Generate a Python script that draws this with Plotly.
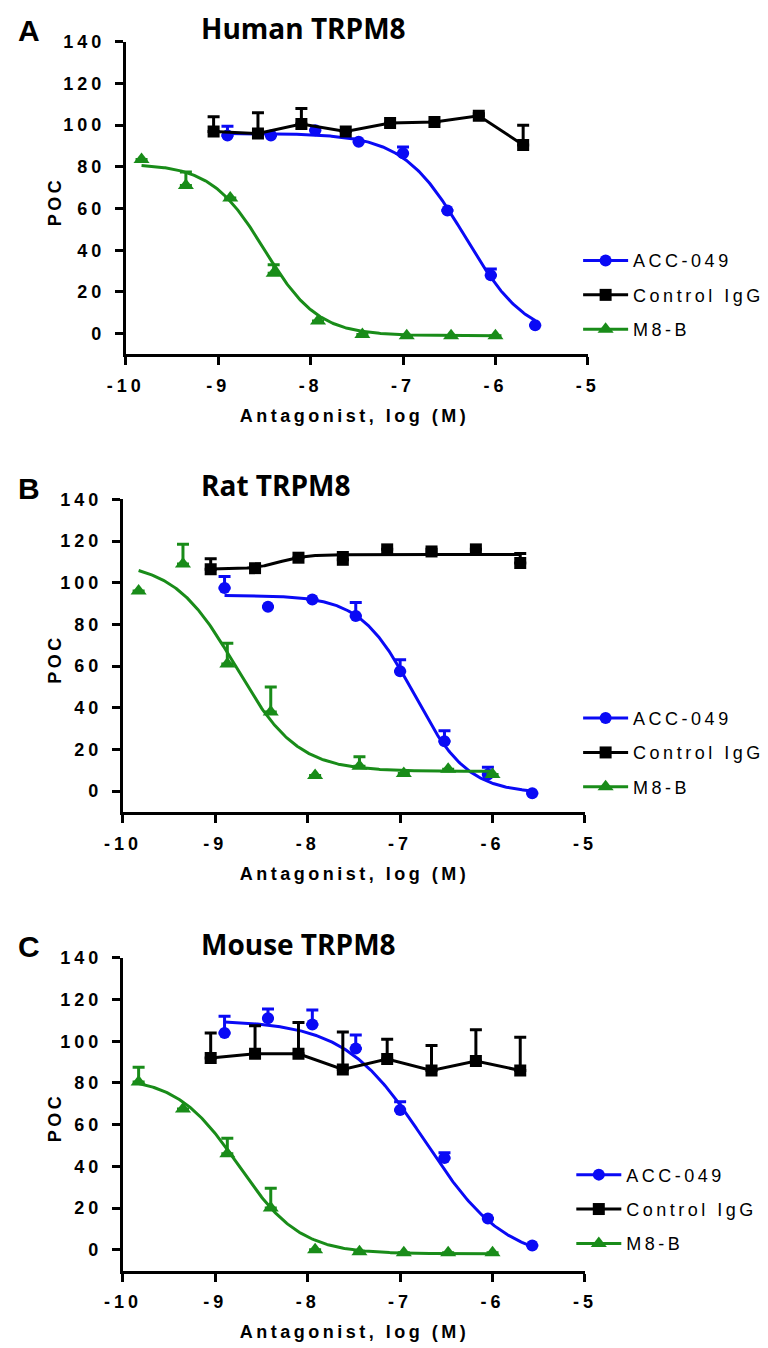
import numpy as np
import plotly.graph_objects as go

# ---------------- data ----------------
panel_letters = ["A", "B", "C"]
panel_titles = ["Human TRPM8", "Rat TRPM8", "Mouse TRPM8"]
series_names = ["ACC-049", "Control IgG", "M8-B"]
x_title = "Antagonist, log (M)"
y_title = "POC"

x_ticks = [-10, -9, -8, -7, -6, -5]
y_ticks = [0, 20, 40, 60, 80, 100, 120, 140]

# log10 concentrations
acc_x = [-8.90, -8.43, -7.95, -7.48, -7.00, -6.52, -6.05, -5.57]
igg_x = [-9.05, -8.57, -8.10, -7.62, -7.14, -6.66, -6.18, -5.70]
m8b_x = [-9.83, -9.35, -8.87, -8.40, -7.92, -7.44, -6.96, -6.48, -6.00]

# Panel A (Human)
acc_y_A = [95, 95, 97.5, 92, 86.5, 59, 28, 4]
acc_err_A = [4.5, 0, 0, 0, 3, 0, 3, 0]
igg_y_A = [97, 96, 100.5, 97, 101, 101.5, 104.5, 90.5]
igg_err_A = [7, 10, 7.5, 0, 0, 0, 1, 9.5]
m8b_y_A = [83.5, 71, 65, 29, 6, -0.5, -1, -1, -1]
m8b_err_A = [0, 6.5, 0, 4, 0, 0, 0, 0, 0]

# Panel B (Rat)
acc_y_B = [97.5, 88.5, 92, 84, 57.5, 24, 8, -1]
acc_err_B = [5.5, 0, 0, 6.5, 5.5, 5, 3.5, 0]
igg_y_B = [106.5, 107, 112, 111, 116, 115, 116, 109.5]
igg_err_B = [5, 1, 0, 3.5, 0, 1, 0, 4.5]
m8b_y_B = [96, 109, 61, 38, 7.5, 12, 8.5, 10.5, 8]
m8b_err_B = [0, 9.5, 10, 12, 0, 4.5, 0, 0, 0]

# Panel C (Mouse)
acc_y_C = [104, 111, 108, 96.5, 67, 44, 15, 2]
acc_err_C = [8, 4.5, 7, 6.5, 4, 2.5, 0, 0]
igg_y_C = [92, 94, 94, 86.5, 91.5, 86, 90.5, 86]
igg_err_C = [12, 13.5, 15, 18, 9.5, 12, 15, 16]
m8b_y_C = [80.5, 67.5, 46, 20, 0, -1, -1.5, -1.5, -1.5]
m8b_err_C = [7, 0, 7.5, 9.5, 0, 0, 0, 0, 0]

# fitted 4-parameter logistic curves: [left plateau, right plateau, logEC50, Hill]
acc_fit_A = [96, -3, -6.33, 1.3]
m8b_fit_A = [81.5, -1, -8.5, 1.5]
acc_fit_B = [94, -1, -6.85, 1.5]
igg_fit_B = [106.5, 113.5, -8.3, 3.0]
m8b_fit_B = [110, 9.5, -8.78, 1.3]
acc_fit_C = [110, -6, -6.73, 1.0]
m8b_fit_C = [83, -2, -8.75, 1.3]

# ---------------- styling ----------------
BLUE = "#0A0AF5"
BLACK = "#000000"
GREEN = "#198C19"
TICK_FONT = dict(family="Liberation Sans", size=18, color="black", weight="bold")
W, H = 768, 1348

# pixel geometry of the three plot areas (left, right, top, bottom)
boxes = [(116, 591, 32, 347), (113, 588, 493, 808), (113, 588, 955, 1270)]
legend_pos = [(581, 234), (581, 695), (574, 1155)]
marker_sizes = [12, 12, 14]
symbols = ["circle", "square", "triangle-up"]
colors = [BLUE, BLACK, GREEN]


def logistic(xs, p):
    a, d, c, h = p
    xs = np.asarray(xs)
    return d + (a - d) / (1 + 10 ** ((xs - c) * h))


def curve_x(xs):
    return np.linspace(min(xs), max(xs), 300)


panels = [
    dict(acc=(acc_y_A, acc_err_A), igg=(igg_y_A, igg_err_A), m8b=(m8b_y_A, m8b_err_A),
         acc_fit=acc_fit_A, igg_fit=None, m8b_fit=m8b_fit_A),
    dict(acc=(acc_y_B, acc_err_B), igg=(igg_y_B, igg_err_B), m8b=(m8b_y_B, m8b_err_B),
         acc_fit=acc_fit_B, igg_fit=igg_fit_B, m8b_fit=m8b_fit_B),
    dict(acc=(acc_y_C, acc_err_C), igg=(igg_y_C, igg_err_C), m8b=(m8b_y_C, m8b_err_C),
         acc_fit=acc_fit_C, igg_fit=None, m8b_fit=m8b_fit_C),
]

fig = go.Figure()
annotations = []
layout_axes = {}

for i, pdat in enumerate(panels):
    k = "" if i == 0 else str(i + 1)
    xa, ya = "x" + k, "y" + k
    leg = "legend" + k
    l, r, t, b = boxes[i]

    def err(vals, color):
        return dict(type="data", symmetric=False, array=vals, arrayminus=[0] * len(vals),
                    color=color, thickness=3, width=6)

    def add_series(xs, ys, errs, fit, j, name, connect=False):
        color = colors[j]
        if fit is not None:
            cx = curve_x(xs)
            fig.add_trace(go.Scatter(x=cx, y=logistic(cx, fit), mode="lines",
                                     line=dict(color=color, width=3), xaxis=xa, yaxis=ya,
                                     showlegend=False, hoverinfo="skip"))
        fig.add_trace(go.Scatter(x=xs, y=ys, mode="lines+markers" if connect else "markers",
                                 line=dict(color=color, width=3),
                                 marker=dict(symbol=symbols[j], size=marker_sizes[j],
                                             color=color),
                                 error_y=err(errs, color), xaxis=xa, yaxis=ya,
                                 showlegend=False, name=name))

    add_series(acc_x, *pdat["acc"], pdat["acc_fit"], 0, series_names[0])
    add_series(igg_x, *pdat["igg"], pdat["igg_fit"], 1, series_names[1],
               connect=pdat["igg_fit"] is None)
    add_series(m8b_x, *pdat["m8b"], pdat["m8b_fit"], 2, series_names[2])

    # legend entries
    for j, name in enumerate(series_names):
        fig.add_trace(go.Scatter(x=[None], y=[None], mode="lines+markers", name=name,
                                 line=dict(color=colors[j], width=3),
                                 marker=dict(symbol=symbols[j], size=marker_sizes[j],
                                             color=colors[j]),
                                 xaxis=xa, yaxis=ya, legend=leg, legendgroup=name + k,
                                 showlegend=True))

    common = dict(showline=True, linewidth=3, linecolor="black", ticks="outside",
                  ticklen=8, tickwidth=3, tickcolor="black", showgrid=False, zeroline=False,
                  tickfont=TICK_FONT, fixedrange=True)
    layout_axes["xaxis" + k] = dict(domain=[l / W, r / W], anchor=ya, range=[-10, -5],
                                    tickmode="array", tickvals=x_ticks,
                                    ticktext=[str(v) for v in x_ticks],
                                    ticklabelstandoff=5, **common)
    layout_axes["yaxis" + k] = dict(domain=[1 - b / H, 1 - t / H], anchor=xa, range=[-10, 140],
                                    tickmode="array", tickvals=y_ticks,
                                    ticktext=[str(v) for v in y_ticks],
                                    ticklabelstandoff=6, **common)
    lx, ly = legend_pos[i]
    layout_axes[leg] = dict(x=lx / W, y=1 - ly / H, xanchor="left", yanchor="top",
                            font=dict(family="Liberation Sans", size=18, color="black"),
                            itemwidth=45, tracegroupgap=8, bgcolor="rgba(0,0,0,0)",
                            borderwidth=0, traceorder="grouped")

    annotations.append(dict(text=panel_letters[i], x=16 / W, y=1 - (t - 11) / H,
                            xref="paper", yref="paper", showarrow=False,
                            xanchor="center", yanchor="middle",
                            font=dict(family="Liberation Sans", size=30, color="black",
                                      weight="bold")))
    annotations.append(dict(text=panel_titles[i], x=191 / W, y=1 - (t - 14) / H,
                            xref="paper", yref="paper", showarrow=False,
                            xanchor="left", yanchor="middle",
                            font=dict(family="Open Sans", size=28, color="black",
                                      weight="bold")))
    annotations.append(dict(text=y_title, x=43 / W, y=1 - ((t + b) / 2 + 3) / H,
                            xref="paper", yref="paper", showarrow=False, textangle=-90,
                            xanchor="center", yanchor="middle",
                            font=dict(family="Liberation Sans", size=18, color="black",
                                      weight="bold")))
    annotations.append(dict(text=x_title, x=351 / W, y=1 - (b + 62) / H,
                            xref="paper", yref="paper", showarrow=False,
                            xanchor="center", yanchor="middle",
                            font=dict(family="Liberation Sans", size=18, color="black",
                                      weight="bold")))

fig.update_layout(width=W, height=H, margin=dict(l=0, r=0, t=0, b=0),
                  paper_bgcolor="white", plot_bgcolor="white",
                  annotations=annotations, **layout_axes)

post = """
document.body.style.margin = '0';
var st = document.createElement('style');
st.textContent = '.xaxislayer-above text, .yaxislayer-above text {letter-spacing:4px;} ' +
  'g.scrollbox text {letter-spacing:3.5px;} ' +
  '.annotation[data-index="2"] text, .annotation[data-index="3"] text, ' +
  '.annotation[data-index="6"] text, .annotation[data-index="7"] text, ' +
  '.annotation[data-index="10"] text, .annotation[data-index="11"] text {letter-spacing:3.5px;}';
document.head.appendChild(st);
var gd = document.getElementById('{plot_id}');
function unclip(){
  gd.querySelectorAll('g.scrollbox').forEach(function(e){ e.removeAttribute('clip-path'); });
}
unclip();
gd.on('plotly_afterplot', unclip);
setTimeout(unclip, 0);
setTimeout(unclip, 100);
setTimeout(unclip, 400);
"""
fig.write_html("out.html", config={"displayModeBar": False}, post_script=post)
